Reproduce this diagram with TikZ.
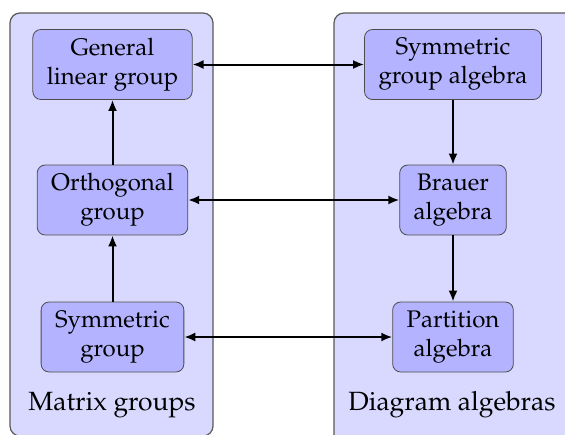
\documentclass[tikz,border=0pt]{standalone}
\usepackage[T1]{fontenc}
\usepackage{mathpazo}
\usetikzlibrary{arrows.meta}
\definecolor{panelfill}{RGB}{217,217,255}
\definecolor{blockfill}{RGB}{179,179,255}
\tikzset{
  panel/.style={draw=black!65, fill=panelfill, rounded corners=5pt, line width=0.6pt},
  block/.style={draw=black!70, fill=blockfill, rounded corners=4pt, align=center,
    font=\fontsize{12}{14.5}\selectfont, minimum height=35pt, inner xsep=7pt},
  uparrow/.style={line width=1pt, -{Latex[length=5.5pt,width=4.5pt]}},
  bothways/.style={line width=1pt, {Latex[length=5.5pt,width=4.5pt]}-{Latex[length=5.5pt,width=4.5pt]}},
  panellabel/.style={font=\fontsize{13.2}{16}\selectfont, anchor=base}
}
\begin{document}
\begin{tikzpicture}[x=0.5pt, y=-0.5pt]
  \useasboundingbox (0,0) rectangle (565,434);
  \clip (0,0) rectangle (565,434);
  % the two panels
  \draw[panel] (10,13) rectangle (213,436);
  \draw[panel] (334,13) rectangle (580,450);
  % left column
  \node[block] (gl) at (112.5,64.5) {General\\linear group};
  \node[block] (og) at (112.5,200) {Orthogonal\\group};
  \node[block] (sg) at (112.5,337) {Symmetric\\group};
  % right column
  \node[block] (sga) at (453,64.5) {Symmetric\\group algebra};
  \node[block] (br) at (453,200) {Brauer\\algebra};
  \node[block] (pa) at (453,337) {Partition\\algebra};
  \node[panellabel] (mg) at (112,410) {Matrix groups};
  \node[panellabel] (da) at (452,410) {Diagram algebras};
  % arrows
  \draw[uparrow] (og) -- (gl);
  \draw[uparrow] (sg) -- (og);
  \draw[uparrow] (sga) -- (br);
  \draw[uparrow] (br) -- (pa);
  \draw[bothways] (gl) -- (sga);
  \draw[bothways] (og) -- (br);
  \draw[bothways] (sg) -- (pa);
\end{tikzpicture}
\end{document}
